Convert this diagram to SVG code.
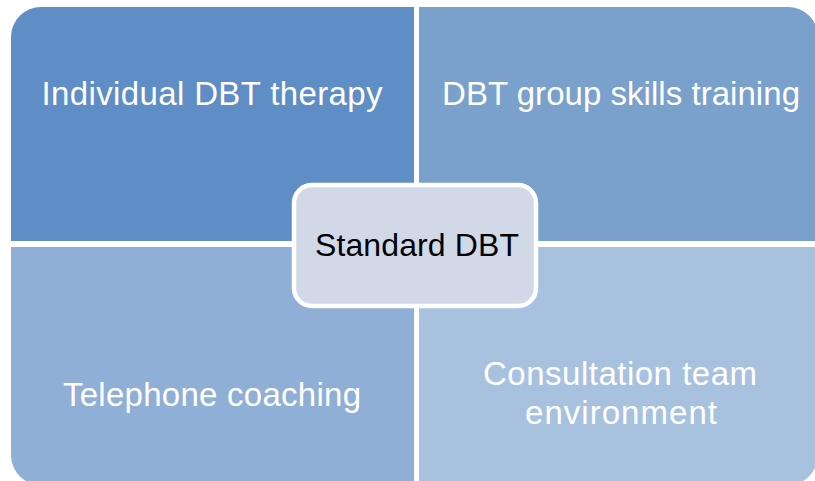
<svg xmlns="http://www.w3.org/2000/svg" width="815" height="481" viewBox="0 0 815 481">
  <style>
    .quad-label { font-family: "Liberation Sans", Arial, sans-serif; font-size: 33px; fill: #ffffff; text-anchor: middle; }
    .hub-label { font-family: "Liberation Sans", Arial, sans-serif; font-size: 32px; fill: #000000; text-anchor: middle; }
  </style>
  <rect width="815" height="481" fill="#ffffff"/>

  <!-- four quadrants, each rounded only on its outer corner -->
  <g id="individual-therapy">
    <path d="M11,241 V37 A30,30 0 0 1 41,7 H414 V241 Z" fill="#5F8DC5"/>
    <text class="quad-label" x="212" y="105" textLength="341">Individual DBT therapy</text>
  </g>
  <g id="group-skills">
    <path d="M419,7 H788 A30,30 0 0 1 818,37 V241 H419 Z" fill="#7AA0CC"/>
    <text class="quad-label" x="621" y="105" textLength="358">DBT group skills training</text>
  </g>
  <g id="telephone-coaching">
    <path d="M11,247 H414 V485 H41 A30,30 0 0 1 11,455 Z" fill="#90AFD6"/>
    <text class="quad-label" x="212" y="406" textLength="298">Telephone coaching</text>
  </g>
  <g id="consultation-team">
    <path d="M419,247 H818 V455 A30,30 0 0 1 788,485 H419 Z" fill="#A8C1DF"/>
    <text class="quad-label" x="620" y="385" textLength="274">Consultation team</text>
    <text class="quad-label" x="621" y="424" textLength="192">environment</text>
  </g>

  <!-- central hub -->
  <g id="standard-dbt">
    <rect x="294" y="185" width="242" height="121" rx="18" ry="18" fill="#D1D9E8" stroke="#ffffff" stroke-width="4.5"/>
    <text class="hub-label" x="417" y="256" textLength="204">Standard DBT</text>
  </g>

  <g id="connectors"></g>
</svg>
